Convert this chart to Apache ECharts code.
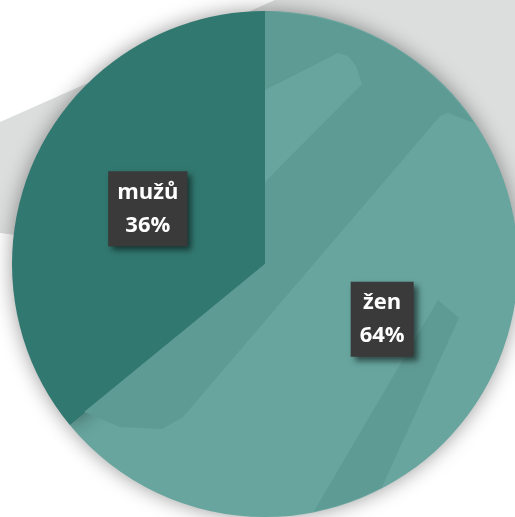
<!DOCTYPE html>
<html>
<head>
<meta charset="utf-8">
<script src="https://cdn.jsdelivr.net/npm/echarts@6/dist/echarts.min.js"></script>
<style>
    html, body { margin: 0; padding: 0; background: #ffffff; }
    #chart { width: 515px; height: 517px; }
</style>
</head>
<body>
<div id="chart"></div>
<script>
// data
const categories = ['žen', 'mužů'];
const values = [64, 36];
const colors = ['#67a59e', '#317870'];

// pie geometry
const cx = 265, cy = 264, R = 253;

// points along the rim (degrees, counter-clockwise from 3 o'clock)
function rim(a0, a1, n) {
    const pts = [];
    for (let i = 0; i <= n; i++) {
        const a = (a0 + (a1 - a0) * i / n) * Math.PI / 180;
        pts.push([cx + (R - 1) * Math.cos(a), cy - (R - 1) * Math.sin(a)]);
    }
    return pts;
}

// decorative shading inside the light slice
const darkArea = [[cx, cy]].concat(rim(90, 34, 14), [
    [448, 113], [440, 116], [400, 163], [183, 417], [162, 429], [120, 427], [84, 412]
]);
const lightStripe = [[cx, 90], [338, 53], [348, 56], [356, 66], [362, 84], [cx, 182]];
const darkStripe = [[438, 300], [459, 318], [381, 489]].concat(rim(-62.7, -78.8, 4));

const myChart = echarts.init(document.getElementById('chart'));

const pieData = categories.map((name, i) => ({
    name: name,
    value: values[i],
    itemStyle: { color: colors[i] }
}));

const option = {
    backgroundColor: '#ffffff',
    animation: false,
    graphic: {
        elements: [
            {
                type: 'polygon',
                z: 0,
                shape: { points: [[0, 122], [275, 0], [515, 0], [515, 300], [0, 233]] },
                style: { fill: '#dcdede' }
            },
            {
                type: 'polygon',
                z: 3,
                silent: true,
                shape: { points: darkArea },
                style: { fill: '#5e9b94' }
            },
            {
                type: 'polygon',
                z: 3,
                silent: true,
                shape: { points: lightStripe },
                style: { fill: '#67a59e' }
            },
            {
                type: 'polygon',
                z: 3,
                silent: true,
                shape: { points: darkStripe },
                style: { fill: '#5e9b94' }
            }
        ]
    },
    series: [
        {
            type: 'pie',
            z: 2,
            center: [cx, cy],
            radius: R,
            startAngle: 90,
            clockwise: true,
            label: { show: false },
            labelLine: { show: false },
            itemStyle: {
                shadowBlur: 20,
                shadowColor: 'rgba(0, 0, 0, 0.4)'
            },
            emphasis: { disabled: true },
            data: pieData
        },
        {
            // label layer, drawn above the shading
            type: 'pie',
            z: 4,
            silent: true,
            center: [cx, cy],
            radius: R,
            startAngle: 90,
            clockwise: true,
            itemStyle: { color: 'rgba(0,0,0,0)' },
            label: {
                show: true,
                position: 'inside',
                formatter: '{b}\n{d}%',
                color: '#ffffff',
                fontFamily: 'Open Sans',
                fontWeight: 'bold',
                fontSize: 22,
                lineHeight: 33,
                backgroundColor: '#3a3a3a',
                padding: [5, 9, 4, 9],
                shadowColor: 'rgba(0, 0, 0, 0.55)',
                shadowBlur: 6,
                shadowOffsetX: 4,
                shadowOffsetY: 4
            },
            labelLine: { show: false },
            emphasis: { disabled: true },
            data: categories.map((name, i) => ({ name: name, value: values[i] }))
        }
    ]
};

myChart.setOption(option);
</script>
</body>
</html>
